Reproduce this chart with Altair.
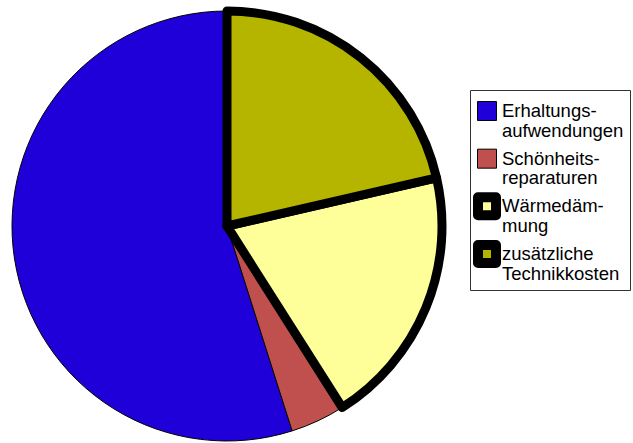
import altair as alt
import pandas as pd

categories = ["Erhaltungsaufwendungen", "Schönheitsreparaturen", "Wärmedämmung", "zusätzliche Technikkosten"]
labels = ["Erhaltungs-\naufwendungen", "Schönheits-\nreparaturen", "Wärmedäm-\nmung", "zusätzliche\nTechnikkosten"]
values = [54.9, 4.1, 19.6, 21.4]
colors = ["#2000d8", "#c0504d", "#ffff99", "#b5b500"]

df = pd.DataFrame({
    "cat": categories,
    "label": labels,
    "value": values,
    "idx": list(range(len(categories))),
})

color_scale = alt.Scale(domain=categories, range=colors)
cx, cy, R = 227, 226, 215

base = alt.Chart(df)

pie_thin = base.mark_arc(outerRadius=R, stroke="black", strokeWidth=1).encode(
    theta=alt.Theta("value:Q", stack=True),
    order=alt.Order("idx:Q", sort="descending"),
    color=alt.Color("cat:N", scale=color_scale, legend=None),
    x=alt.value(cx), y=alt.value(cy),
)

pie_thick = base.mark_arc(outerRadius=R, stroke="black", strokeWidth=9, strokeJoin="round").encode(
    theta=alt.Theta("value:Q", stack=True),
    order=alt.Order("idx:Q", sort="descending"),
    color=alt.Color("cat:N", scale=color_scale, legend=None),
    opacity=alt.condition("datum.idx >= 2", alt.value(1), alt.value(0)),
    x=alt.value(cx), y=alt.value(cy),
)

legend_box = alt.Chart(alt.Data(values=[{}])).mark_rect(
    fill="white", stroke="#333333", strokeWidth=1
).encode(
    x=alt.value(470.5), x2=alt.value(630.5), y=alt.value(90.5), y2=alt.value(290.5)
)

yscale = alt.Scale(type="point", domain=categories, range=[111, 254], padding=0)

legend_sym = base.mark_point(shape="square", filled=True, stroke="black", strokeJoin="round", opacity=1).encode(
    x=alt.value(487),
    y=alt.Y("cat:N", scale=yscale, axis=None),
    color=alt.Color("cat:N", scale=color_scale, legend=None),
    size=alt.condition("datum.idx >= 2", alt.value(324), alt.value(361)),
    strokeWidth=alt.condition("datum.idx >= 2", alt.value(10), alt.value(1)),
)

legend_txt = base.mark_text(
    align="left", baseline="middle", lineBreak="\n", lineHeight=19.5, dy=0,
    font="Liberation Sans", fontSize=18.5, color="black"
).encode(
    x=alt.value(502),
    y=alt.Y("cat:N", scale=yscale, axis=None),
    text="label:N",
)

chart = alt.layer(pie_thin, pie_thick, legend_box, legend_sym, legend_txt).properties(
    width=633, height=443, autosize="none", padding=0, background="white"
).configure_view(stroke=None)

chart.save("out.html", embed_options={"renderer": "svg", "actions": False})
